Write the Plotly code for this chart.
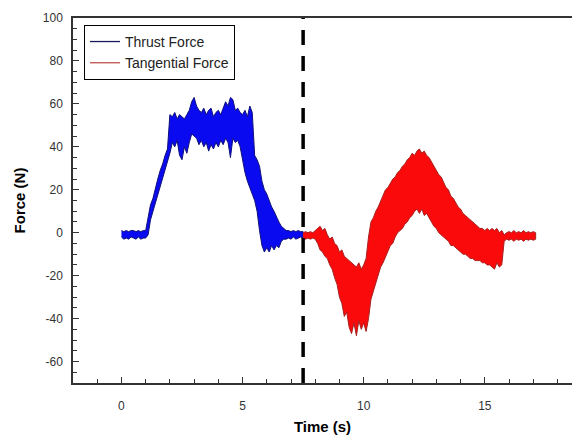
import plotly.graph_objects as go

# ---------------- data ----------------
thrust_t = [0.0, 0.1, 0.2, 0.3, 0.4, 0.5, 0.6, 0.7, 0.8, 0.9, 1.0,
            1.1, 1.2, 1.3, 1.4, 1.5, 1.6, 1.7, 1.8, 1.9, 2.0,
            2.1, 2.2, 2.3, 2.4, 2.5, 2.6, 2.7, 2.8, 2.9, 3.0,
            3.1, 3.2, 3.3, 3.4, 3.5, 3.6, 3.7, 3.8, 3.9, 4.0,
            4.1, 4.2, 4.3, 4.4, 4.5, 4.6, 4.7, 4.8, 4.9, 5.0,
            5.1, 5.2, 5.3, 5.4, 5.5, 5.6, 5.7, 5.8, 5.9, 6.0,
            6.1, 6.2, 6.3, 6.4, 6.5, 6.6, 6.7, 6.8, 6.9, 7.0,
            7.1, 7.2, 7.3, 7.4, 7.5]
thrust_hi = [1, 0.5, 1, 0.5, 1, 1, 0.5, 1, 0.5, 1, 1,
             7, 13, 16, 21, 25, 29, 32, 36, 39, 55,
             54, 56, 53, 55, 54, 53, 55, 57, 61, 63,
             59, 57, 56, 58, 55, 57, 58, 54, 56, 57,
             55, 58, 61, 59, 63, 62, 57, 58, 56, 55,
             57, 54, 59, 56, 36, 34, 31, 24, 20, 18,
             15, 12, 10, 7, 5, 3, 2, 1, 1, 0.5,
             1, 0.5, 1, 0.5, 0.5]
thrust_lo = [-2, -3, -2.5, -3, -2, -2.5, -3, -2, -3, -2.5, -2.5,
             -1, 6, 9, 13, 17, 21, 25, 29, 33, 37,
             42, 40, 43, 36, 34, 40, 37, 42, 46, 45,
             44, 41, 43, 40, 42, 38, 41, 39, 42, 40,
             43, 41, 44, 42, 35, 44, 42, 43, 40, 35,
             28, 24, 21, 18, 15, 10, 1, -6, -9, -7,
             -9, -6, -8, -6, -7, -4, -3, -3, -2.5, -3,
             -2, -3, -2.5, -2, -2.5]

tang_t = [7.5, 7.6, 7.7, 7.8, 7.9, 8.0, 8.1, 8.2, 8.3, 8.4,
          8.5, 8.6, 8.7, 8.8, 8.9, 9.0, 9.1, 9.2, 9.3, 9.4,
          9.5, 9.6, 9.7, 9.8, 9.9, 10.0, 10.1, 10.2, 10.3, 10.4,
          10.5, 10.6, 10.7, 10.8, 10.9, 11.0, 11.1, 11.2, 11.3, 11.4,
          11.5, 11.6, 11.7, 11.8, 11.9, 12.0, 12.1, 12.2, 12.3, 12.4,
          12.5, 12.6, 12.7, 12.8, 12.9, 13.0, 13.1, 13.2, 13.3, 13.4,
          13.5, 13.6, 13.7, 13.8, 13.9, 14.0, 14.1, 14.2, 14.3, 14.4,
          14.5, 14.6, 14.7, 14.8, 14.9, 15.0, 15.1, 15.2, 15.3, 15.4,
          15.5, 15.6, 15.7, 15.8, 15.9, 16.0, 16.1, 16.2, 16.3, 16.4,
          16.5, 16.6, 16.7, 16.8, 16.9, 17.0, 17.1]
tang_hi = [0, 0.5, 0, 0.5, 0, 1, 2, 3, 1, 2,
           -1, -3, -2, -5, -6, -9, -8, -11, -12, -13,
           -14, -15, -16, -14, -17, -15, -12, -2, 5, 7,
           10, 12, 15, 18, 20, 21, 23, 25, 26, 28,
           29, 31, 32, 34, 35, 37, 36, 38, 39, 37,
           38, 36, 35, 33, 31, 29, 27, 26, 23, 21,
           20, 17, 16, 14, 12, 11, 9, 8, 7, 6,
           5, 4, 3, 2, 2, 1, 2, 1, 2, 1,
           2, 0, 1, -1, 0, 0.5, 0, 1, 0, 0.5,
           0, 1, 0, 0.5, 0, 0.5, 0]
tang_lo = [-2.5, -3, -2.5, -3, -2.5, -3, -5, -8, -9, -11,
           -12, -15, -17, -21, -24, -30, -33, -39, -37, -44,
           -47, -42, -48, -41, -45, -42, -46, -40, -31, -28,
           -24, -20, -16, -14, -11, -9, -6, -5, -2, 0,
           1, 2, 4, 5, 7, 8, 10, 11, 9, 11,
           8, 9, 7, 5, 3, 2, 0, -1, -2, -3,
           -4, -6, -6, -7, -8, -9, -10, -10, -11, -12,
           -12, -13, -13, -13, -14, -14, -15, -15, -16, -17,
           -14, -16, -15, -4, -3, -3.5, -3, -4, -3, -3.5,
           -3, -4, -3, -3.5, -3, -3.5, -3]

marker_time = 7.5
series_names = ["Thrust Force", "Tangential Force"]
x_ticks = [0, 5, 10, 15]
y_ticks = [-60, -40, -20, 0, 20, 40, 60, 80, 100]

FONT = "Liberation Sans, Arial, sans-serif"

fig = go.Figure()

# filled noise bands (upper envelope forward, lower envelope back)
fig.add_trace(go.Scatter(
    x=thrust_t + thrust_t[::-1], y=thrust_hi + thrust_lo[::-1],
    fill="toself", fillcolor="#0a0af0", mode="lines",
    line=dict(color="#10107a", width=1), showlegend=False, hoverinfo="skip"))
fig.add_trace(go.Scatter(
    x=tang_t + tang_t[::-1], y=tang_hi + tang_lo[::-1],
    fill="toself", fillcolor="#fa0a0a", mode="lines",
    line=dict(color="#a82020", width=1), showlegend=False, hoverinfo="skip"))

# legend entries
fig.add_trace(go.Scatter(x=[None], y=[None], mode="lines", name=series_names[0],
                         line=dict(color="#1c1c5a", width=1.3)))
fig.add_trace(go.Scatter(x=[None], y=[None], mode="lines", name=series_names[1],
                         line=dict(color="#c0504a", width=1.3)))

fig.add_shape(type="line", xref="x", yref="paper", x0=marker_time, x1=marker_time,
              y0=0, y1=1, line=dict(color="black", width=3.5, dash="15px,11px"))

fig.update_layout(
    width=572, height=441,
    margin=dict(l=73, r=0, t=18, b=58),
    paper_bgcolor="white", plot_bgcolor="white",
    font=dict(family=FONT, size=12, color="#333333"),
    showlegend=True,
    legend=dict(x=0.022, y=0.981, xanchor="left", yanchor="top",
                bgcolor="white", bordercolor="black", borderwidth=1,
                font=dict(family=FONT, size=14, color="#222222")),
    xaxis=dict(range=[-2, 18.6], tickvals=x_ticks, ticktext=[str(v) for v in x_ticks],
               ticks="inside", ticklen=6,
               tickcolor="#333333", tickwidth=1,
               minor=dict(dtick=1, tick0=0, ticks="inside", ticklen=4, tickcolor="#333333"),
               showline=True, linecolor="#333333", linewidth=1.5, mirror=True,
               showgrid=False, zeroline=False, ticklabelstandoff=11,
               tickfont=dict(size=12, color="#333333"),
               title=dict(text="Time (s)", standoff=9,
                          font=dict(size=15, color="black", weight="bold"))),
    yaxis=dict(range=[-70, 100], tickvals=y_ticks, ticktext=[str(v) for v in y_ticks],
               ticks="inside", ticklen=6,
               tickcolor="#333333", tickwidth=1,
               minor=dict(dtick=5, tick0=0, ticks="inside", ticklen=4, tickcolor="#333333"),
               showline=True, linecolor="#333333", linewidth=1.5, mirror=False,
               showgrid=False, zeroline=False, ticklabelstandoff=6,
               tickfont=dict(size=12, color="#333333"),
               title=dict(text="Force (N)", standoff=14,
                          font=dict(size=15, color="black", weight="bold"))),
)

fig.write_html("out.html")
